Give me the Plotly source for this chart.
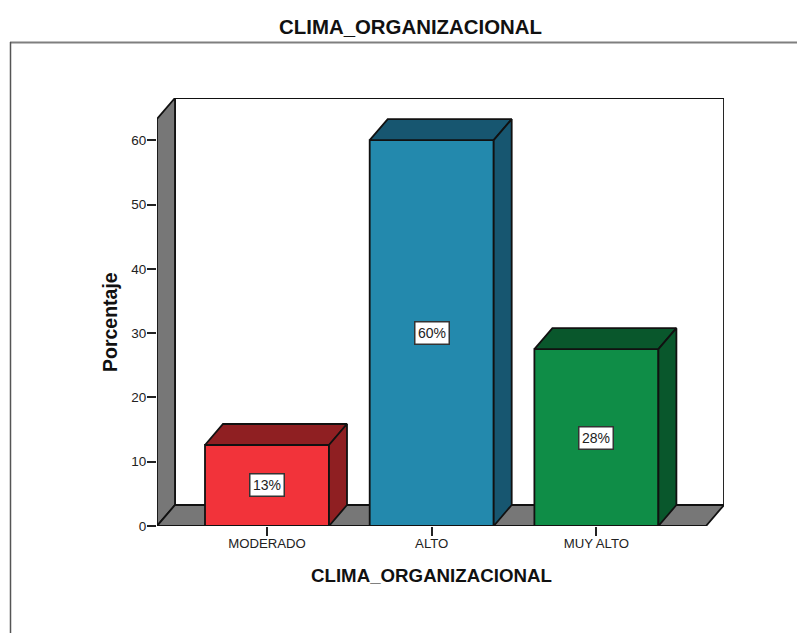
import plotly.graph_objects as go

categories = ["MODERADO", "ALTO", "MUY ALTO"]
values = [12.6, 60.0, 27.5]
labels = ["13%", "60%", "28%"]
front_colors = ["#f2333a", "#2389ad", "#0f8d47"]
dark_colors = ["#8f1f22", "#175670", "#09572c"]
y_ticks = [0, 10, 20, 30, 40, 50, 60]

W, H = 797, 633
px_left, px_right, px_bottom, px_top = 157, 724, 526, 98
px_per_cat, px_per_val = 164.7, 6.43
center0 = 267.0
x_min = (px_left - center0) / px_per_cat
x_max = (px_right - center0) / px_per_cat
y_max = (px_bottom - px_top) / px_per_val
dx = 18 / px_per_cat
dy = 21 / px_per_val
bar_w = 124 / px_per_cat
xs = list(range(len(categories)))
LINE = "#111111"
GRAY = "#777777"


def path(points):
    return "M " + " L ".join(f"{a},{b}" for a, b in points) + " Z"


fig = go.Figure()
fig.add_trace(go.Bar(
    x=xs, y=values, width=bar_w,
    marker=dict(color=front_colors, line=dict(color=LINE, width=1.8)),
    hoverinfo="skip", showlegend=False,
))
for x, v, col in zip(xs, values, dark_colors):
    l, r = x - bar_w / 2, x + bar_w / 2
    top = [(l, v), (l + dx, v + dy), (r + dx, v + dy), (r, v), (l, v)]
    side = [(r, v), (r + dx, v + dy), (r + dx, dy), (r, 0), (r, v)]
    for poly in (top, side):
        fig.add_trace(go.Scatter(
            x=[p[0] for p in poly], y=[p[1] for p in poly], mode="lines",
            fill="toself", fillcolor=col, line=dict(color=LINE, width=1.8),
            hoverinfo="skip", showlegend=False,
        ))

wall_line = dict(color=LINE, width=1.8)
shapes = [
    dict(type="path", xref="x", yref="y", layer="below", fillcolor="white", line=wall_line,
         path=path([(x_min + dx, dy), (x_min + dx, y_max), (x_max, y_max), (x_max, dy)])),
    dict(type="path", xref="x", yref="y", layer="below", fillcolor=GRAY, line=wall_line,
         path=path([(x_min, 0), (x_min + dx, dy), (x_min + dx, y_max), (x_min, y_max - dy)])),
    dict(type="path", xref="x", yref="y", layer="below", fillcolor=GRAY, line=wall_line,
         path=path([(x_min, 0), (x_min + dx, dy), (x_max, dy), (x_max - dx, 0)])),
    dict(type="line", xref="paper", yref="paper", x0=10 / W, x1=1, y0=1 - 42.5 / H, y1=1 - 42.5 / H,
         line=dict(color="#7f7f7f", width=2)),
    dict(type="line", xref="paper", yref="paper", x0=10.5 / W, x1=10.5 / W, y0=0, y1=1 - 42 / H,
         line=dict(color="#555555", width=1.5)),
]

annotations = [
    dict(x=x, y=v / 2, xref="x", yref="y", text=t, showarrow=False,
         font=dict(family="Liberation Sans", size=14, color="#222222"),
         bgcolor="white", bordercolor="#333333", borderwidth=1.5, borderpad=2.5)
    for x, v, t in zip(xs, values, labels)
]
annotations += [
    dict(x=431.5 / W, y=1 - 575 / H, xref="paper", yref="paper", xanchor="center", yanchor="middle",
         text="<b>CLIMA_ORGANIZACIONAL</b>",
         showarrow=False, font=dict(family="Liberation Sans", size=18.7, color="#111111")),
    dict(x=109.5 / W, y=1 - 322.5 / H, xref="paper", yref="paper", xanchor="center", yanchor="middle",
         text="<b>Porcentaje</b>", textangle=-90,
         showarrow=False, font=dict(family="Liberation Sans", size=19.5, color="#111111")),
]

fig.update_layout(
    template="none",
    width=W, height=H, autosize=False,
    margin=dict(l=0, r=0, t=0, b=0),
    paper_bgcolor="white", plot_bgcolor="rgba(0,0,0,0)",
    title=dict(text="<b>CLIMA_ORGANIZACIONAL</b>", x=410.5 / W, xanchor="center",
               y=1 - 27 / H, yanchor="middle",
               font=dict(family="Liberation Sans", size=20.4, color="#111111")),
    xaxis=dict(domain=[px_left / W, px_right / W], range=[x_min, x_max], tickmode="array",
               tickvals=xs, ticktext=categories, ticks="outside", ticklen=9, tickcolor="#222222",
               tickwidth=1.5, showgrid=False, zeroline=False, showline=False, automargin=False,
               ticklabelstandoff=-4,
               tickfont=dict(family="Liberation Sans", size=13.2, color="#222222")),
    yaxis=dict(domain=[(H - px_bottom) / H, (H - px_top) / H], range=[0, y_max], tickmode="array",
               tickvals=y_ticks, ticks="outside", ticklen=9, tickcolor="#222222", tickwidth=1.5,
               showgrid=False, zeroline=False, showline=False, automargin=False,
               ticklabelstandoff=-2,
               tickfont=dict(family="Liberation Sans", size=13.5, color="#222222")),
    shapes=shapes, annotations=annotations, showlegend=False,
)
fig.write_html("out.html", config={"displayModeBar": False},
               post_script="document.body.style.margin='0';document.body.style.overflow='hidden';")
